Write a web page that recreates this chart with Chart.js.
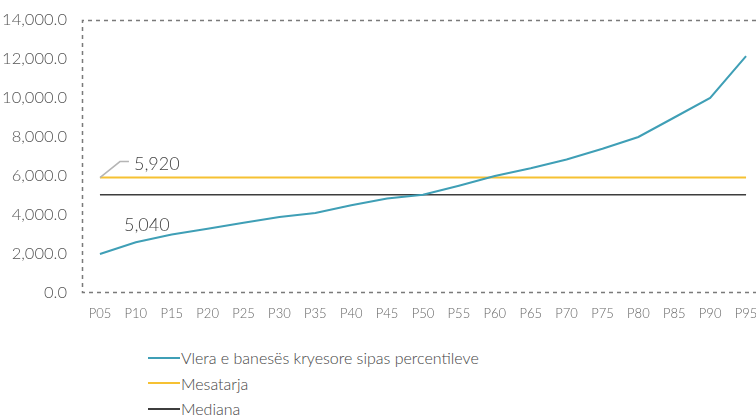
<!DOCTYPE html>
<html>
<head>
<meta charset="utf-8">
<script src="https://cdn.jsdelivr.net/npm/chart.js@4"></script>
<style>
  body { margin: 0; background: #fff; overflow: hidden; width: 756px; height: 419px; position: relative; }
  #wrap { position: absolute; left: 0; top: 0; width: 764px; height: 322px; }
  #legend { position: absolute; left: 148px; top: 345px; font-family: Lato, "DejaVu Sans", sans-serif; font-weight: 300; font-size: 16px; color: #444; }
  #legend div { height: 25.5px; display: flex; align-items: center; }
  #legend span.ln { display: inline-block; width: 32px; height: 0; border-top: 2px solid; margin-right: 1px; }
</style>
</head>
<body>
<div id="wrap"><canvas id="c" width="764" height="322"></canvas></div>
<div id="legend"></div>
<script>
// percentiles
let categories = ["P05","P10","P15","P20","P25","P30","P35","P40","P45","P50","P55","P60","P65","P70","P75","P80","P85","P90","P95"]
// value of the top apartment per percentile
let topValues = [2000, 2600, 3000, 3300, 3600, 3900, 4100, 4500, 4850, 5040, 5500, 6000, 6400, 6850, 7400, 8000, 9000, 10000, 12150]
let meanValue = 5920
let medianValue = 5040
let seriesNames = ["Vlera e banesës kryesore sipas percentileve", "Mesatarja", "Mediana"]
let colors = ["#3f9fb6", "#f6c132", "#3d3d3d"]

let FONT = "Lato, 'DejaVu Sans', sans-serif"

// dashed frame (top, left, bottom) + leader line and value labels
let extras = {
    id: "extras",
    afterDraw(chart) {
        let ctx = chart.ctx
        let a = chart.chartArea
        let xs = chart.scales.x, ys = chart.scales.y
        ctx.save()
        ctx.strokeStyle = "#7a7a7a"
        ctx.lineWidth = 1.5
        ctx.setLineDash([4, 4])
        ctx.beginPath()
        ctx.moveTo(a.right, a.top + 0.5)
        ctx.lineTo(a.left + 0.5, a.top + 0.5)
        ctx.lineTo(a.left + 0.5, a.bottom - 0.5)
        ctx.lineTo(a.right, a.bottom - 0.5)
        ctx.stroke()
        ctx.setLineDash([])

        let x0 = xs.getPixelForValue(0)
        let ym = ys.getPixelForValue(meanValue)
        ctx.strokeStyle = "#b5b5b5"
        ctx.lineWidth = 1.5
        ctx.beginPath()
        ctx.moveTo(x0, ym)
        ctx.lineTo(x0 + 20, ym - 16)
        ctx.lineTo(x0 + 29, ym - 16)
        ctx.stroke()

        ctx.fillStyle = "#444"
        ctx.font = "300 18px " + FONT
        ctx.textBaseline = "middle"
        ctx.textAlign = "left"
        ctx.fillText(meanValue.toLocaleString("en-US"), x0 + 34, ym - 13)
        ctx.fillText(medianValue.toLocaleString("en-US"), x0 + 24, ys.getPixelForValue(medianValue) + 30)
        ctx.restore()
    }
}

let chart = new Chart(document.getElementById("c"), {
    type: "line",
    data: {
        labels: categories,
        datasets: [
            { label: seriesNames[0], data: topValues, borderColor: colors[0], borderWidth: 2, pointRadius: 0, tension: 0 },
            { label: seriesNames[1], data: categories.map(() => meanValue), borderColor: colors[1], borderWidth: 2, pointRadius: 0 },
            { label: seriesNames[2], data: categories.map(() => medianValue), borderColor: colors[2], borderWidth: 1.5, pointRadius: 0 }
        ]
    },
    options: {
        responsive: false,
        animation: false,
        layout: { padding: { top: 20, left: 0, right: 0, bottom: 0 } },
        plugins: { legend: { display: false }, tooltip: { enabled: false } },
        scales: {
            x: {
                offset: true,
                grid: { display: false },
                border: { display: false },
                ticks: { color: "#666", font: { family: FONT, size: 13, weight: 300 }, padding: 5, maxRotation: 0, autoSkip: false },
                afterFit(s) { s.height = 29 }
            },
            y: {
                min: 0, max: 14000,
                grid: { display: false },
                border: { display: false },
                ticks: {
                    stepSize: 2000,
                    color: "#555",
                    padding: 7,
                    font: { family: FONT, size: 16.5, weight: 300 },
                    callback: v => v.toLocaleString("en-US", { minimumFractionDigits: 1, maximumFractionDigits: 1 })
                },
                afterFit(s) { s.width = 82 }
            }
        }
    },
    plugins: [extras]
})

// legend as html, one row per dataset
let lg = document.getElementById("legend")
chart.data.datasets.forEach(ds => {
    let row = document.createElement("div")
    row.innerHTML = '<span class="ln" style="border-color:' + ds.borderColor + '"></span>' + ds.label
    lg.appendChild(row)
})
</script>
</body>
</html>
